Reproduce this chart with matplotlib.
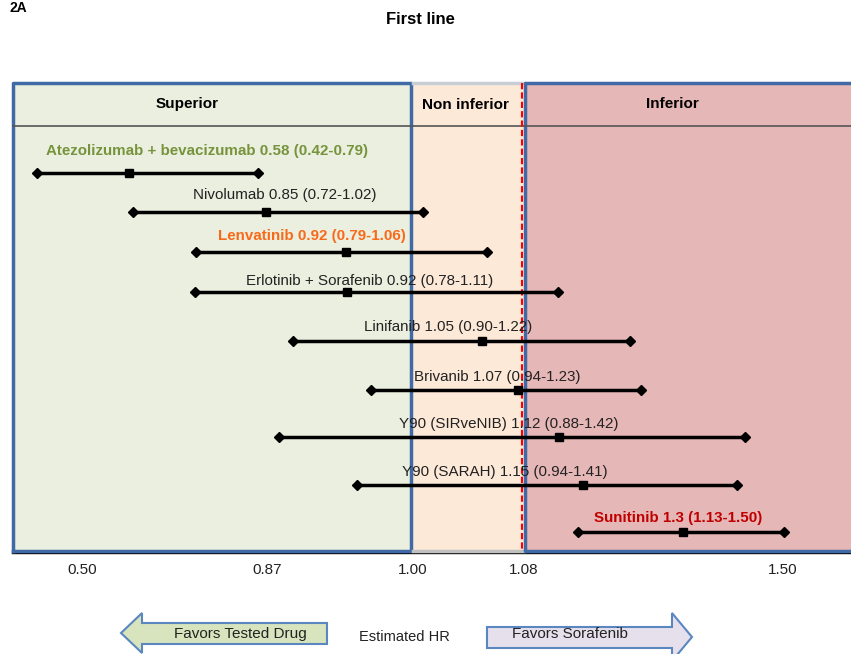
import numpy as np
import matplotlib
matplotlib.use("Agg")
import matplotlib.pyplot as plt
from matplotlib.patches import Rectangle, Polygon
import logging
logging.getLogger('matplotlib.font_manager').setLevel(logging.ERROR)

plt.rcParams['font.family'] = ['Liberation Sans', 'DejaVu Sans']

# data: trial labels and the HR positions as drawn on the chart
labels = ["Atezolizumab + bevacizumab 0.58 (0.42-0.79)",
          "Nivolumab 0.85 (0.72-1.02)",
          "Lenvatinib 0.92 (0.79-1.06)",
          "Erlotinib + Sorafenib 0.92 (0.78-1.11)",
          "Linifanib 1.05 (0.90-1.22)",
          "Brivanib 1.07 (0.94-1.23)",
          "Y90 (SIRveNIB) 1.12 (0.88-1.42)",
          "Y90 (SARAH) 1.15 (0.94-1.41)",
          "Sunitinib 1.3 (1.13-1.50)"]
hr = [0.594, 0.868, 0.940, 0.941, 1.050, 1.076, 1.137, 1.176, 1.338]
lo = [0.410, 0.602, 0.728, 0.726, 0.893, 0.963, 0.881, 0.950, 1.168]
hi = [0.852, 1.007, 1.053, 1.135, 1.252, 1.270, 1.438, 1.425, 1.502]
tick_vals = [0.50, 0.87, 1.00, 1.08, 1.50]
tick_labels = ["0.50", "0.87", "1.00", "1.08", "1.50"]

# layout
row_y = [173, 212, 252, 292, 341, 390, 437, 485, 532]
label_x = [0.75, 0.886, 0.910, 0.961, 1.025, 1.061, 1.069, 1.066, 1.330]
label_y = [151, 195, 236, 281, 327, 377, 424, 472, 518]
label_col = ['#77933c', '#222222', '#f86a1a', '#222222', '#222222',
             '#222222', '#222222', '#222222', '#c00000']
label_bold = [True, False, True, False, False, False, False, False, True]

# the drawn axis is piecewise, not linear
knot_v = [0.36, 0.50, 0.87, 1.00, 1.08, 1.50, 1.61]
knot_p = [12, 82, 267, 413, 524, 783, 851]
def fwd(x):
    return np.interp(x, knot_v, knot_p)
def inv(p):
    return np.interp(p, knot_p, knot_v)

W, H = 851, 654
fig = plt.figure(figsize=(W/100, H/100), dpi=100)
ax = fig.add_axes([12/W, 1-553/H, 839/W, 471/H])
ax.set_xscale('function', functions=(fwd, inv))
ax.set_xlim(0.36, 1.61)
ax.set_ylim(553, 82)

blue = '#3f6aa6'
ax.add_patch(Rectangle((0.36, 83), 0.64, 468, facecolor='#ebefdf', edgecolor='none'))
ax.add_patch(Rectangle((1.0, 83), 0.08, 468, facecolor='#fde9d8', edgecolor='none'))
ax.add_patch(Rectangle((1.08, 83), 0.53, 468, facecolor='#e6b7b7', edgecolor='none'))
# borders
ax.plot([inv(13), inv(13), inv(411), inv(411), inv(13)], [551, 83, 83, 551, 551],
        color=blue, lw=2.5, clip_on=False, zorder=3)
ax.plot([inv(413), 1.08], [83, 83], color='#c8ced6', lw=2.5, clip_on=False, zorder=3)
ax.plot([inv(413), 1.08], [551, 551], color='#c0c0c0', lw=2.5, clip_on=False, zorder=3)
ax.plot([1.61, inv(525), inv(525), 1.61], [83, 83, 551, 551],
        color=blue, lw=2.5, clip_on=False, zorder=3)
ax.plot([inv(12), 1.61], [126, 126], color='#555555', lw=1.2, zorder=3)
ax.plot([inv(522), inv(522)], [83, 551], color='#ff0000', lw=1.5, ls=(0, (3, 1.5)), zorder=4)

ax.text(0.71, 104, "Superior", ha='center', va='center', fontsize=11, fontweight='bold')
ax.text(1.038, 105, "Non inferior", ha='center', va='center', fontsize=11, fontweight='bold')
ax.text(1.32, 104, "Inferior", ha='center', va='center', fontsize=11, fontweight='bold')

for i in range(len(labels)):
    ax.plot([lo[i], hi[i]], [row_y[i], row_y[i]], color='black', lw=2.5, zorder=5)
    ax.plot([lo[i], hi[i]], [row_y[i], row_y[i]], 'D', color='black', ms=5, zorder=6)
    ax.plot([hr[i]], [row_y[i]], 's', color='black', ms=6, zorder=6)
    ax.text(label_x[i], label_y[i], labels[i], ha='center', va='center', fontsize=10.9,
            color=label_col[i], fontweight='bold' if label_bold[i] else 'normal', zorder=7)

for s in ['top', 'left', 'right']:
    ax.spines[s].set_visible(False)
ax.spines['bottom'].set_color('black')
ax.spines['bottom'].set_linewidth(1)
ax.set_yticks([])
ax.set_xticks(tick_vals)
ax.set_xticklabels(tick_labels)
ax.minorticks_off()
ax.tick_params(axis='x', length=0, pad=7, labelsize=11, labelcolor='#222222')
narrow = ['Liberation Sans Narrow', 'DejaVu Sans Condensed', 'Liberation Sans']
for t in ax.get_xticklabels():
    t.set_family(narrow)

def f(x, y):
    return (x / W, 1 - y / H)

fig.text(*f(420, 20), "First line", ha='center', va='center', fontsize=12, fontweight='bold')
fig.text(*f(10, 1), "2A", ha='left', va='top', fontsize=10, fontweight='bold')

left_arrow = [f(121, 633), f(142, 613), f(142, 623), f(327, 623), f(327, 644),
              f(142, 644), f(142, 653)]
right_arrow = [f(487, 627), f(672, 627), f(672, 613), f(692, 637), f(672, 661),
               f(672, 648), f(487, 648)]
fig.add_artist(Polygon(left_arrow, closed=True, transform=fig.transFigure,
                       facecolor='#d7e4bd', edgecolor='#5b87c0', lw=1.5))
fig.add_artist(Polygon(right_arrow, closed=True, transform=fig.transFigure,
                       facecolor='#e6e0ec', edgecolor='#5b87c0', lw=1.5))
fig.text(*f(240, 634), "Favors Tested Drug", ha='center', va='center', fontsize=11,
         family=narrow, color='#222222')
fig.text(*f(404, 637), "Estimated HR", ha='center', va='center', fontsize=10.5,
         family=narrow, color='#222222')
fig.text(*f(570, 634), "Favors Sorafenib", ha='center', va='center', fontsize=11,
         family=narrow, color='#222222')

fig.savefig("out.png", dpi=100)
